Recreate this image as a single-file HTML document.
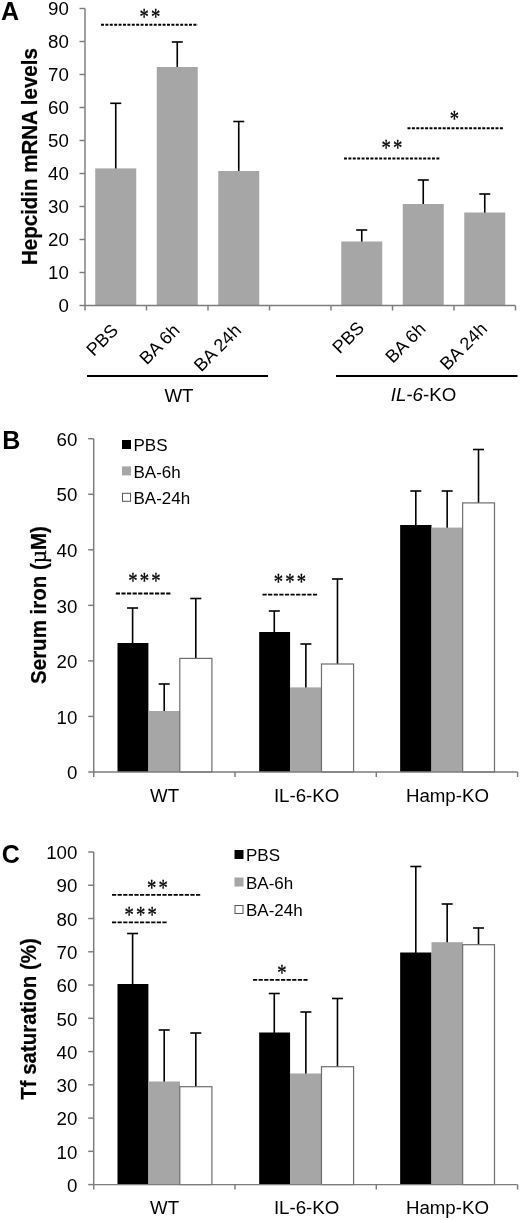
<!DOCTYPE html>
<html><head><meta charset="utf-8"><title>Figure</title>
<style>html,body{margin:0;padding:0;background:#fff}svg{display:block;will-change:transform}</style>
</head><body>
<svg width="520" height="1220" viewBox="0 0 520 1220">
<rect width="520" height="1220" fill="#fff"/>
<text x="0.9" y="19.7" font-size="25" text-anchor="start" font-weight="bold" font-family='"Liberation Sans", Arial, sans-serif' >A</text>
<text transform="translate(37.4,156.6) rotate(-90) scale(1,1.04)" font-size="20.5" font-weight="bold" stroke="#000" stroke-width="0.2" text-anchor="middle" font-family='"Liberation Sans", Arial, sans-serif'>Hepcidin mRNA levels</text>
<line x1="115.75" y1="103.3" x2="115.75" y2="169.4" stroke="#000" stroke-width="1.6" />
<line x1="110.25" y1="103.3" x2="121.25" y2="103.3" stroke="#000" stroke-width="1.6" />
<rect x="95.25" y="168.4" width="41" height="137.1" fill="#a6a6a6"/>
<line x1="177.25" y1="42" x2="177.25" y2="68" stroke="#000" stroke-width="1.6" />
<line x1="171.75" y1="42" x2="182.75" y2="42" stroke="#000" stroke-width="1.6" />
<rect x="156.75" y="67" width="41" height="238.5" fill="#a6a6a6"/>
<line x1="238.75" y1="121.5" x2="238.75" y2="172" stroke="#000" stroke-width="1.6" />
<line x1="233.25" y1="121.5" x2="244.25" y2="121.5" stroke="#000" stroke-width="1.6" />
<rect x="218.25" y="171" width="41" height="134.5" fill="#a6a6a6"/>
<line x1="361.75" y1="230" x2="361.75" y2="242.5" stroke="#000" stroke-width="1.6" />
<line x1="356.25" y1="230" x2="367.25" y2="230" stroke="#000" stroke-width="1.6" />
<rect x="341.25" y="241.5" width="41" height="64.0" fill="#a6a6a6"/>
<line x1="423.25" y1="180" x2="423.25" y2="205" stroke="#000" stroke-width="1.6" />
<line x1="417.75" y1="180" x2="428.75" y2="180" stroke="#000" stroke-width="1.6" />
<rect x="402.75" y="204" width="41" height="101.5" fill="#a6a6a6"/>
<line x1="484.75" y1="194" x2="484.75" y2="213.5" stroke="#000" stroke-width="1.6" />
<line x1="479.25" y1="194" x2="490.25" y2="194" stroke="#000" stroke-width="1.6" />
<rect x="464.25" y="212.5" width="41" height="93.0" fill="#a6a6a6"/>
<line x1="85" y1="8.5" x2="85" y2="305.5" stroke="#7c7c7c" stroke-width="1.45" />
<line x1="85" y1="305.5" x2="515.5" y2="305.5" stroke="#7c7c7c" stroke-width="1.45" />
<line x1="79.5" y1="305.5" x2="85" y2="305.5" stroke="#7c7c7c" stroke-width="1.45" />
<text x="68.8" y="312.3" font-size="18.7" text-anchor="end" font-weight="normal" font-family='"Liberation Sans", Arial, sans-serif' >0</text>
<line x1="79.5" y1="272.5" x2="85" y2="272.5" stroke="#7c7c7c" stroke-width="1.45" />
<text x="68.8" y="279.3" font-size="18.7" text-anchor="end" font-weight="normal" font-family='"Liberation Sans", Arial, sans-serif' >10</text>
<line x1="79.5" y1="239.5" x2="85" y2="239.5" stroke="#7c7c7c" stroke-width="1.45" />
<text x="68.8" y="246.3" font-size="18.7" text-anchor="end" font-weight="normal" font-family='"Liberation Sans", Arial, sans-serif' >20</text>
<line x1="79.5" y1="206.5" x2="85" y2="206.5" stroke="#7c7c7c" stroke-width="1.45" />
<text x="68.8" y="213.3" font-size="18.7" text-anchor="end" font-weight="normal" font-family='"Liberation Sans", Arial, sans-serif' >30</text>
<line x1="79.5" y1="173.5" x2="85" y2="173.5" stroke="#7c7c7c" stroke-width="1.45" />
<text x="68.8" y="180.3" font-size="18.7" text-anchor="end" font-weight="normal" font-family='"Liberation Sans", Arial, sans-serif' >40</text>
<line x1="79.5" y1="140.5" x2="85" y2="140.5" stroke="#7c7c7c" stroke-width="1.45" />
<text x="68.8" y="147.3" font-size="18.7" text-anchor="end" font-weight="normal" font-family='"Liberation Sans", Arial, sans-serif' >50</text>
<line x1="79.5" y1="107.5" x2="85" y2="107.5" stroke="#7c7c7c" stroke-width="1.45" />
<text x="68.8" y="114.3" font-size="18.7" text-anchor="end" font-weight="normal" font-family='"Liberation Sans", Arial, sans-serif' >60</text>
<line x1="79.5" y1="74.5" x2="85" y2="74.5" stroke="#7c7c7c" stroke-width="1.45" />
<text x="68.8" y="81.3" font-size="18.7" text-anchor="end" font-weight="normal" font-family='"Liberation Sans", Arial, sans-serif' >70</text>
<line x1="79.5" y1="41.5" x2="85" y2="41.5" stroke="#7c7c7c" stroke-width="1.45" />
<text x="68.8" y="48.3" font-size="18.7" text-anchor="end" font-weight="normal" font-family='"Liberation Sans", Arial, sans-serif' >80</text>
<line x1="79.5" y1="8.5" x2="85" y2="8.5" stroke="#7c7c7c" stroke-width="1.45" />
<text x="68.8" y="15.3" font-size="18.7" text-anchor="end" font-weight="normal" font-family='"Liberation Sans", Arial, sans-serif' >90</text>
<line x1="85.0" y1="305.5" x2="85.0" y2="310.5" stroke="#7c7c7c" stroke-width="1.45" />
<line x1="146.5" y1="305.5" x2="146.5" y2="310.5" stroke="#7c7c7c" stroke-width="1.45" />
<line x1="208.0" y1="305.5" x2="208.0" y2="310.5" stroke="#7c7c7c" stroke-width="1.45" />
<line x1="269.5" y1="305.5" x2="269.5" y2="310.5" stroke="#7c7c7c" stroke-width="1.45" />
<line x1="331.0" y1="305.5" x2="331.0" y2="310.5" stroke="#7c7c7c" stroke-width="1.45" />
<line x1="392.5" y1="305.5" x2="392.5" y2="310.5" stroke="#7c7c7c" stroke-width="1.45" />
<line x1="454.0" y1="305.5" x2="454.0" y2="310.5" stroke="#7c7c7c" stroke-width="1.45" />
<line x1="515.5" y1="305.5" x2="515.5" y2="310.5" stroke="#7c7c7c" stroke-width="1.45" />
<text transform="translate(119.25,331.5) rotate(-45)" font-size="18" text-anchor="end" font-family='"Liberation Sans", Arial, sans-serif'>PBS</text>
<text transform="translate(180.75,331.5) rotate(-45)" font-size="18" text-anchor="end" font-family='"Liberation Sans", Arial, sans-serif'>BA 6h</text>
<text transform="translate(242.25,331.5) rotate(-45)" font-size="18" text-anchor="end" font-family='"Liberation Sans", Arial, sans-serif'>BA 24h</text>
<text transform="translate(365.25,329.0) rotate(-45)" font-size="18" text-anchor="end" font-family='"Liberation Sans", Arial, sans-serif'>PBS</text>
<text transform="translate(426.75,330.0) rotate(-45)" font-size="18" text-anchor="end" font-family='"Liberation Sans", Arial, sans-serif'>BA 6h</text>
<text transform="translate(488.25,330.0) rotate(-45)" font-size="18" text-anchor="end" font-family='"Liberation Sans", Arial, sans-serif'>BA 24h</text>
<line x1="87" y1="376" x2="268" y2="376" stroke="#000" stroke-width="2" />
<line x1="336" y1="376" x2="517.5" y2="376" stroke="#000" stroke-width="2" />
<text x="179" y="402" font-size="18.7" text-anchor="middle" font-weight="normal" font-family='"Liberation Sans", Arial, sans-serif' >WT</text>
<text x="423.5" y="400.5" font-size="18.7" text-anchor="middle" font-family='"Liberation Sans", Arial, sans-serif'><tspan font-style="italic">IL-6</tspan>-KO</text>
<line x1="101" y1="24.75" x2="198" y2="24.75" stroke="#000" stroke-width="1.85" stroke-dasharray="2.95 1.45"/>
<text transform="translate(151.079,23.6) scale(0.83,1)" font-size="22.5" letter-spacing="2.6" text-anchor="middle" font-family='"Liberation Serif", "Times New Roman", serif' stroke="#000" stroke-width="0.3">**</text>
<line x1="407.5" y1="128.2" x2="503.5" y2="128.2" stroke="#000" stroke-width="1.85" stroke-dasharray="2.95 1.45"/>
<text transform="translate(455.579,126.3) scale(0.83,1)" font-size="22.5" letter-spacing="2.6" text-anchor="middle" font-family='"Liberation Serif", "Times New Roman", serif' stroke="#000" stroke-width="0.3">*</text>
<line x1="344" y1="158.5" x2="440" y2="158.5" stroke="#000" stroke-width="1.85" stroke-dasharray="2.95 1.45"/>
<text transform="translate(393.079,154.79999999999998) scale(0.83,1)" font-size="22.5" letter-spacing="2.6" text-anchor="middle" font-family='"Liberation Serif", "Times New Roman", serif' stroke="#000" stroke-width="0.3">**</text>
<text x="2.3" y="449.4" font-size="25" text-anchor="start" font-weight="bold" font-family='"Liberation Sans", Arial, sans-serif' >B</text>
<text transform="translate(46,605) rotate(-90) scale(1,1.04)" font-size="20.5" font-weight="bold" stroke="#000" stroke-width="0.2" text-anchor="middle" font-family='"Liberation Sans", Arial, sans-serif'>Serum iron (<tspan font-family='"Liberation Serif", serif' font-weight="normal" font-size="23" stroke="#000" stroke-width="0.35">µ</tspan>M)</text>
<line x1="132.6" y1="608" x2="132.6" y2="644" stroke="#000" stroke-width="1.6" />
<line x1="127.1" y1="608" x2="138.1" y2="608" stroke="#000" stroke-width="1.6" />
<rect x="117.49999999999999" y="643" width="30.900000000000002" height="129" fill="#000"/>
<line x1="164.2" y1="684" x2="164.2" y2="712" stroke="#000" stroke-width="1.6" />
<line x1="158.7" y1="684" x2="169.7" y2="684" stroke="#000" stroke-width="1.6" />
<rect x="148.39999999999998" y="711" width="31.6" height="61" fill="#a6a6a6"/>
<line x1="195.8" y1="598.5" x2="195.8" y2="659.2" stroke="#000" stroke-width="1.6" />
<line x1="190.3" y1="598.5" x2="201.3" y2="598.5" stroke="#000" stroke-width="1.6" />
<rect x="179.8" y="658.4000000000001" width="32.1" height="113.59999999999995" fill="#fff" stroke="#6e6e6e" stroke-width="1.2"/>
<line x1="274.27000000000004" y1="611" x2="274.27000000000004" y2="633" stroke="#000" stroke-width="1.6" />
<line x1="268.77000000000004" y1="611" x2="279.77000000000004" y2="611" stroke="#000" stroke-width="1.6" />
<rect x="259.17" y="632" width="30.900000000000002" height="140" fill="#000"/>
<line x1="305.87000000000006" y1="644" x2="305.87000000000006" y2="688.4" stroke="#000" stroke-width="1.6" />
<line x1="300.37000000000006" y1="644" x2="311.37000000000006" y2="644" stroke="#000" stroke-width="1.6" />
<rect x="290.07000000000005" y="687.4" width="31.6" height="84.60000000000002" fill="#a6a6a6"/>
<line x1="337.47" y1="579" x2="337.47" y2="664.8" stroke="#000" stroke-width="1.6" />
<line x1="331.97" y1="579" x2="342.97" y2="579" stroke="#000" stroke-width="1.6" />
<rect x="321.47" y="664.0" width="32.1" height="108.00000000000004" fill="#fff" stroke="#6e6e6e" stroke-width="1.2"/>
<line x1="415.815" y1="491" x2="415.815" y2="526" stroke="#000" stroke-width="1.6" />
<line x1="410.315" y1="491" x2="421.315" y2="491" stroke="#000" stroke-width="1.6" />
<rect x="400.14" y="525" width="31.35" height="247" fill="#000"/>
<line x1="447.165" y1="491" x2="447.165" y2="528.6" stroke="#000" stroke-width="1.6" />
<line x1="441.665" y1="491" x2="452.665" y2="491" stroke="#000" stroke-width="1.6" />
<rect x="431.49" y="527.6" width="31.35" height="244.39999999999998" fill="#a6a6a6"/>
<line x1="478.515" y1="449.5" x2="478.515" y2="503.7" stroke="#000" stroke-width="1.6" />
<line x1="473.015" y1="449.5" x2="484.015" y2="449.5" stroke="#000" stroke-width="1.6" />
<rect x="462.64" y="502.9" width="31.85" height="269.1" fill="#fff" stroke="#6e6e6e" stroke-width="1.2"/>
<line x1="93.7" y1="438.70000000000005" x2="93.7" y2="772" stroke="#7c7c7c" stroke-width="1.45" />
<line x1="93.7" y1="772" x2="517.6" y2="772" stroke="#7c7c7c" stroke-width="1.45" />
<line x1="88.2" y1="772.0" x2="93.7" y2="772.0" stroke="#7c7c7c" stroke-width="1.45" />
<text x="77.4" y="779.2" font-size="18.7" text-anchor="end" font-weight="normal" font-family='"Liberation Sans", Arial, sans-serif' >0</text>
<line x1="88.2" y1="716.45" x2="93.7" y2="716.45" stroke="#7c7c7c" stroke-width="1.45" />
<text x="77.4" y="723.6500000000001" font-size="18.7" text-anchor="end" font-weight="normal" font-family='"Liberation Sans", Arial, sans-serif' >10</text>
<line x1="88.2" y1="660.9" x2="93.7" y2="660.9" stroke="#7c7c7c" stroke-width="1.45" />
<text x="77.4" y="668.1" font-size="18.7" text-anchor="end" font-weight="normal" font-family='"Liberation Sans", Arial, sans-serif' >20</text>
<line x1="88.2" y1="605.35" x2="93.7" y2="605.35" stroke="#7c7c7c" stroke-width="1.45" />
<text x="77.4" y="612.5500000000001" font-size="18.7" text-anchor="end" font-weight="normal" font-family='"Liberation Sans", Arial, sans-serif' >30</text>
<line x1="88.2" y1="549.8" x2="93.7" y2="549.8" stroke="#7c7c7c" stroke-width="1.45" />
<text x="77.4" y="557.0" font-size="18.7" text-anchor="end" font-weight="normal" font-family='"Liberation Sans", Arial, sans-serif' >40</text>
<line x1="88.2" y1="494.25" x2="93.7" y2="494.25" stroke="#7c7c7c" stroke-width="1.45" />
<text x="77.4" y="501.45" font-size="18.7" text-anchor="end" font-weight="normal" font-family='"Liberation Sans", Arial, sans-serif' >50</text>
<line x1="88.2" y1="438.70000000000005" x2="93.7" y2="438.70000000000005" stroke="#7c7c7c" stroke-width="1.45" />
<text x="77.4" y="445.90000000000003" font-size="18.7" text-anchor="end" font-weight="normal" font-family='"Liberation Sans", Arial, sans-serif' >60</text>
<line x1="93.7" y1="772" x2="93.7" y2="777" stroke="#7c7c7c" stroke-width="1.45" />
<line x1="235.0" y1="772" x2="235.0" y2="777" stroke="#7c7c7c" stroke-width="1.45" />
<line x1="376.3" y1="772" x2="376.3" y2="777" stroke="#7c7c7c" stroke-width="1.45" />
<line x1="517.6" y1="772" x2="517.6" y2="777" stroke="#7c7c7c" stroke-width="1.45" />
<text x="164.65000000000003" y="802" font-size="18.7" text-anchor="middle" font-weight="normal" font-family='"Liberation Sans", Arial, sans-serif' >WT</text>
<text x="306.65000000000003" y="802" font-size="18.7" text-anchor="middle" font-weight="normal" font-family='"Liberation Sans", Arial, sans-serif' >IL-6-KO</text>
<text x="447.45" y="802" font-size="18.7" text-anchor="middle" font-weight="normal" font-family='"Liberation Sans", Arial, sans-serif' >Hamp-KO</text>
<rect x="122" y="440.0" width="9" height="9" fill="#000"/>
<text x="133.5" y="451.3" font-size="17" text-anchor="start" font-weight="normal" font-family='"Liberation Sans", Arial, sans-serif' >PBS</text>
<rect x="122" y="466.4" width="9" height="9" fill="#a6a6a6"/>
<text x="133.5" y="477.7" font-size="17" text-anchor="start" font-weight="normal" font-family='"Liberation Sans", Arial, sans-serif' >BA-6h</text>
<rect x="122.5" y="493.3" width="8" height="8" fill="#fff" stroke="#555" stroke-width="1"/>
<text x="133.5" y="504.1" font-size="17" text-anchor="start" font-weight="normal" font-family='"Liberation Sans", Arial, sans-serif' >BA-24h</text>
<line x1="115.8" y1="593.5" x2="171.2" y2="593.5" stroke="#000" stroke-width="1.85" stroke-dasharray="4.2 1.4"/>
<text transform="translate(145.579,588.0) scale(0.83,1)" font-size="22.5" letter-spacing="2.6" text-anchor="middle" font-family='"Liberation Serif", "Times New Roman", serif' stroke="#000" stroke-width="0.3">***</text>
<line x1="262.5" y1="594.6" x2="317.6" y2="594.6" stroke="#000" stroke-width="1.85" stroke-dasharray="4.2 1.4"/>
<text transform="translate(290.979,588.6) scale(0.83,1)" font-size="22.5" letter-spacing="2.6" text-anchor="middle" font-family='"Liberation Serif", "Times New Roman", serif' stroke="#000" stroke-width="0.3">***</text>
<text x="1.7" y="863.1" font-size="25" text-anchor="start" font-weight="bold" font-family='"Liberation Sans", Arial, sans-serif' >C</text>
<text transform="translate(36.4,1019) rotate(-90) scale(1,1.04)" font-size="20.5" font-weight="bold" stroke="#000" stroke-width="0.2" text-anchor="middle" font-family='"Liberation Sans", Arial, sans-serif'>Tf saturation (%)</text>
<line x1="132.6" y1="933.5" x2="132.6" y2="985" stroke="#000" stroke-width="1.6" />
<line x1="127.1" y1="933.5" x2="138.1" y2="933.5" stroke="#000" stroke-width="1.6" />
<rect x="117.49999999999999" y="984" width="30.900000000000002" height="200.5999999999999" fill="#000"/>
<line x1="164.2" y1="1030" x2="164.2" y2="1082.5" stroke="#000" stroke-width="1.6" />
<line x1="158.7" y1="1030" x2="169.7" y2="1030" stroke="#000" stroke-width="1.6" />
<rect x="148.39999999999998" y="1081.5" width="31.6" height="103.09999999999991" fill="#a6a6a6"/>
<line x1="195.8" y1="1033" x2="195.8" y2="1087.5" stroke="#000" stroke-width="1.6" />
<line x1="190.3" y1="1033" x2="201.3" y2="1033" stroke="#000" stroke-width="1.6" />
<rect x="179.8" y="1086.7" width="32.1" height="97.8999999999999" fill="#fff" stroke="#6e6e6e" stroke-width="1.2"/>
<line x1="274.27000000000004" y1="993.5" x2="274.27000000000004" y2="1033.5" stroke="#000" stroke-width="1.6" />
<line x1="268.77000000000004" y1="993.5" x2="279.77000000000004" y2="993.5" stroke="#000" stroke-width="1.6" />
<rect x="259.17" y="1032.5" width="30.900000000000002" height="152.0999999999999" fill="#000"/>
<line x1="305.87000000000006" y1="1012" x2="305.87000000000006" y2="1074.5" stroke="#000" stroke-width="1.6" />
<line x1="300.37000000000006" y1="1012" x2="311.37000000000006" y2="1012" stroke="#000" stroke-width="1.6" />
<rect x="290.07000000000005" y="1073.5" width="31.6" height="111.09999999999991" fill="#a6a6a6"/>
<line x1="337.47" y1="998.5" x2="337.47" y2="1067.5" stroke="#000" stroke-width="1.6" />
<line x1="331.97" y1="998.5" x2="342.97" y2="998.5" stroke="#000" stroke-width="1.6" />
<rect x="321.47" y="1066.7" width="32.1" height="117.8999999999999" fill="#fff" stroke="#6e6e6e" stroke-width="1.2"/>
<line x1="415.815" y1="866.5" x2="415.815" y2="953.5" stroke="#000" stroke-width="1.6" />
<line x1="410.315" y1="866.5" x2="421.315" y2="866.5" stroke="#000" stroke-width="1.6" />
<rect x="400.14" y="952.5" width="31.35" height="232.0999999999999" fill="#000"/>
<line x1="447.165" y1="904" x2="447.165" y2="943.2" stroke="#000" stroke-width="1.6" />
<line x1="441.665" y1="904" x2="452.665" y2="904" stroke="#000" stroke-width="1.6" />
<rect x="431.49" y="942.2" width="31.35" height="242.39999999999986" fill="#a6a6a6"/>
<line x1="478.515" y1="928" x2="478.515" y2="945.5" stroke="#000" stroke-width="1.6" />
<line x1="473.015" y1="928" x2="484.015" y2="928" stroke="#000" stroke-width="1.6" />
<rect x="462.64" y="944.7" width="31.85" height="239.89999999999992" fill="#fff" stroke="#6e6e6e" stroke-width="1.2"/>
<line x1="93.7" y1="851.9999999999999" x2="93.7" y2="1184.6" stroke="#7c7c7c" stroke-width="1.45" />
<line x1="93.7" y1="1184.6" x2="517.6" y2="1184.6" stroke="#7c7c7c" stroke-width="1.45" />
<line x1="88.2" y1="1184.6" x2="93.7" y2="1184.6" stroke="#7c7c7c" stroke-width="1.45" />
<text x="77.4" y="1191.8" font-size="18.7" text-anchor="end" font-weight="normal" font-family='"Liberation Sans", Arial, sans-serif' >0</text>
<line x1="88.2" y1="1151.34" x2="93.7" y2="1151.34" stroke="#7c7c7c" stroke-width="1.45" />
<text x="77.4" y="1158.54" font-size="18.7" text-anchor="end" font-weight="normal" font-family='"Liberation Sans", Arial, sans-serif' >10</text>
<line x1="88.2" y1="1118.08" x2="93.7" y2="1118.08" stroke="#7c7c7c" stroke-width="1.45" />
<text x="77.4" y="1125.28" font-size="18.7" text-anchor="end" font-weight="normal" font-family='"Liberation Sans", Arial, sans-serif' >20</text>
<line x1="88.2" y1="1084.82" x2="93.7" y2="1084.82" stroke="#7c7c7c" stroke-width="1.45" />
<text x="77.4" y="1092.02" font-size="18.7" text-anchor="end" font-weight="normal" font-family='"Liberation Sans", Arial, sans-serif' >30</text>
<line x1="88.2" y1="1051.56" x2="93.7" y2="1051.56" stroke="#7c7c7c" stroke-width="1.45" />
<text x="77.4" y="1058.76" font-size="18.7" text-anchor="end" font-weight="normal" font-family='"Liberation Sans", Arial, sans-serif' >40</text>
<line x1="88.2" y1="1018.3" x2="93.7" y2="1018.3" stroke="#7c7c7c" stroke-width="1.45" />
<text x="77.4" y="1025.5" font-size="18.7" text-anchor="end" font-weight="normal" font-family='"Liberation Sans", Arial, sans-serif' >50</text>
<line x1="88.2" y1="985.04" x2="93.7" y2="985.04" stroke="#7c7c7c" stroke-width="1.45" />
<text x="77.4" y="992.24" font-size="18.7" text-anchor="end" font-weight="normal" font-family='"Liberation Sans", Arial, sans-serif' >60</text>
<line x1="88.2" y1="951.78" x2="93.7" y2="951.78" stroke="#7c7c7c" stroke-width="1.45" />
<text x="77.4" y="958.98" font-size="18.7" text-anchor="end" font-weight="normal" font-family='"Liberation Sans", Arial, sans-serif' >70</text>
<line x1="88.2" y1="918.52" x2="93.7" y2="918.52" stroke="#7c7c7c" stroke-width="1.45" />
<text x="77.4" y="925.72" font-size="18.7" text-anchor="end" font-weight="normal" font-family='"Liberation Sans", Arial, sans-serif' >80</text>
<line x1="88.2" y1="885.2599999999999" x2="93.7" y2="885.2599999999999" stroke="#7c7c7c" stroke-width="1.45" />
<text x="77.4" y="892.4599999999999" font-size="18.7" text-anchor="end" font-weight="normal" font-family='"Liberation Sans", Arial, sans-serif' >90</text>
<line x1="88.2" y1="851.9999999999999" x2="93.7" y2="851.9999999999999" stroke="#7c7c7c" stroke-width="1.45" />
<text x="77.4" y="859.1999999999999" font-size="18.7" text-anchor="end" font-weight="normal" font-family='"Liberation Sans", Arial, sans-serif' >100</text>
<line x1="93.7" y1="1184.6" x2="93.7" y2="1189.6" stroke="#7c7c7c" stroke-width="1.45" />
<line x1="235.0" y1="1184.6" x2="235.0" y2="1189.6" stroke="#7c7c7c" stroke-width="1.45" />
<line x1="376.3" y1="1184.6" x2="376.3" y2="1189.6" stroke="#7c7c7c" stroke-width="1.45" />
<line x1="517.6" y1="1184.6" x2="517.6" y2="1189.6" stroke="#7c7c7c" stroke-width="1.45" />
<text x="164.65000000000003" y="1213.8" font-size="18.7" text-anchor="middle" font-weight="normal" font-family='"Liberation Sans", Arial, sans-serif' >WT</text>
<text x="306.65000000000003" y="1213.8" font-size="18.7" text-anchor="middle" font-weight="normal" font-family='"Liberation Sans", Arial, sans-serif' >IL-6-KO</text>
<text x="447.45" y="1213.8" font-size="18.7" text-anchor="middle" font-weight="normal" font-family='"Liberation Sans", Arial, sans-serif' >Hamp-KO</text>
<rect x="234.5" y="850.0" width="9" height="9" fill="#000"/>
<text x="246.0" y="861.3" font-size="17" text-anchor="start" font-weight="normal" font-family='"Liberation Sans", Arial, sans-serif' >PBS</text>
<rect x="234.5" y="877.5" width="9" height="9" fill="#a6a6a6"/>
<text x="246.0" y="888.8" font-size="17" text-anchor="start" font-weight="normal" font-family='"Liberation Sans", Arial, sans-serif' >BA-6h</text>
<rect x="235.0" y="905.5" width="8" height="8" fill="#fff" stroke="#555" stroke-width="1"/>
<text x="246.0" y="916.3" font-size="17" text-anchor="start" font-weight="normal" font-family='"Liberation Sans", Arial, sans-serif' >BA-24h</text>
<line x1="112" y1="894.8" x2="201.2" y2="894.8" stroke="#000" stroke-width="1.85" stroke-dasharray="4.2 1.4"/>
<text transform="translate(158.37900000000002,894.9) scale(0.83,1)" font-size="22.5" letter-spacing="2.6" text-anchor="middle" font-family='"Liberation Serif", "Times New Roman", serif' stroke="#000" stroke-width="0.3">**</text>
<line x1="112" y1="922.4" x2="167.2" y2="922.4" stroke="#000" stroke-width="1.85" stroke-dasharray="4.2 1.4"/>
<text transform="translate(141.679,922.3000000000001) scale(0.83,1)" font-size="22.5" letter-spacing="2.6" text-anchor="middle" font-family='"Liberation Serif", "Times New Roman", serif' stroke="#000" stroke-width="0.3">***</text>
<line x1="253" y1="979.8" x2="308" y2="979.8" stroke="#000" stroke-width="1.85" stroke-dasharray="4.2 1.4"/>
<text transform="translate(283.079,980.1) scale(0.83,1)" font-size="22.5" letter-spacing="2.6" text-anchor="middle" font-family='"Liberation Serif", "Times New Roman", serif' stroke="#000" stroke-width="0.3">*</text>
</svg>
</body></html>
